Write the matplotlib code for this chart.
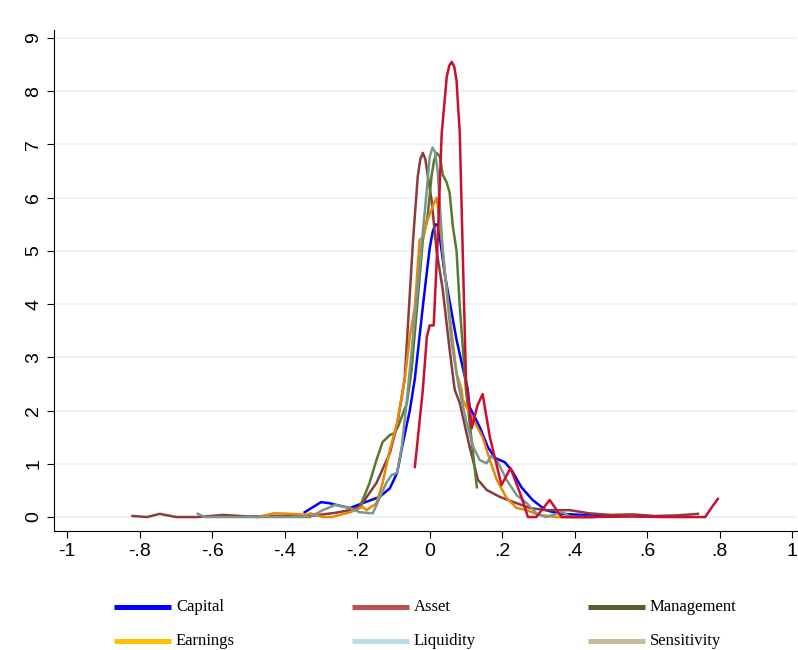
import numpy as np
import matplotlib.pyplot as plt
from matplotlib.lines import Line2D

# kernel density curves (x = value, y = density)
capital_x = [-0.345, -0.30, -0.276, -0.26, -0.22, -0.185, -0.138, -0.11, -0.09, -0.074, -0.055, -0.041,
             -0.019, -0.008, 0.0, 0.008, 0.015, 0.022, 0.028, 0.041, 0.074, 0.105, 0.11, 0.138, 0.16, 0.18,
             0.207, 0.226, 0.253, 0.284, 0.32, 0.36, 0.42, 0.505]
capital_y = [0.09, 0.28, 0.26, 0.23, 0.17, 0.26, 0.38, 0.54, 0.83, 1.39, 2.0, 2.6,
             3.95, 4.6, 5.05, 5.35, 5.5, 5.48, 5.25, 4.58, 3.33, 2.39, 2.07, 1.69, 1.32, 1.11,
             1.03, 0.88, 0.56, 0.32, 0.13, 0.06, 0.04, 0.02]

asset_x = [-0.82, -0.78, -0.745, -0.70, -0.64, -0.57, -0.50, -0.42, -0.34, -0.26, -0.22, -0.193, -0.147,
           -0.11, -0.09, -0.074, -0.069, -0.046, -0.033, -0.026, -0.019, -0.012, -0.005, 0.005, 0.019,
           0.036, 0.055, 0.069, 0.083, 0.11, 0.133, 0.157, 0.193, 0.24, 0.276, 0.32, 0.386, 0.44, 0.50,
           0.56, 0.62, 0.68, 0.74]
asset_y = [0.02, 0.0, 0.06, 0.0, 0.0, 0.04, 0.01, 0.02, 0.01, 0.08, 0.13, 0.19, 0.64,
           1.2, 1.73, 2.39, 2.6, 5.2, 6.4, 6.72, 6.84, 6.72, 6.4, 5.96, 5.0,
           4.27, 3.14, 2.39, 2.14, 1.32, 0.70, 0.51, 0.38, 0.26, 0.17, 0.13, 0.13, 0.07, 0.04,
           0.05, 0.02, 0.03, 0.06]

management_x = [-0.193, -0.166, -0.147, -0.13, -0.11, -0.097, -0.088, -0.063, -0.05, -0.019, -0.006,
                0.005, 0.012, 0.019, 0.028, 0.036, 0.047, 0.055, 0.064, 0.074, 0.083, 0.10, 0.13]
management_y = [0.19, 0.64, 1.07, 1.41, 1.54, 1.58, 1.69, 2.14, 2.76, 5.2, 5.64,
                6.4, 6.7, 6.84, 6.77, 6.43, 6.28, 6.09, 5.45, 5.0, 3.95, 2.39, 0.56]

earnings_x = [-0.477, -0.43, -0.38, -0.34, -0.33, -0.295, -0.27, -0.22, -0.185, -0.174, -0.147, -0.13,
              -0.11, -0.09, -0.074, -0.069, -0.055, -0.041, -0.028, -0.019, -0.006, 0.008, 0.019, 0.028,
              0.036, 0.047, 0.074, 0.088, 0.091, 0.116, 0.146, 0.166, 0.185, 0.212, 0.24, 0.268, 0.30,
              0.35, 0.45]
earnings_y = [0.0, 0.07, 0.06, 0.04, 0.07, 0.0, 0.0, 0.09, 0.19, 0.13, 0.26, 0.64,
              1.26, 1.77, 2.39, 2.57, 3.38, 3.95, 5.2, 5.26, 5.58, 5.83, 6.0, 5.52,
              5.0, 4.27, 2.7, 2.39, 2.2, 1.88, 1.5, 1.07, 0.7, 0.36, 0.17, 0.13, 0.04,
              0.0, 0.0]

liquidity_x = [-0.64, -0.62, -0.50, -0.40, -0.33, -0.295, -0.26, -0.22, -0.193, -0.157, -0.12, -0.105,
               -0.09, -0.077, -0.063, -0.055, -0.008, 0.0, 0.008, 0.015, 0.022, 0.036, 0.06, 0.08,
               0.10, 0.12, 0.138, 0.157, 0.17, 0.188, 0.212, 0.24, 0.268, 0.294, 0.32, 0.345, 0.366,
               0.39, 0.45]
liquidity_y = [0.06, 0.0, 0.0, 0.0, 0.0, 0.13, 0.23, 0.17, 0.09, 0.07, 0.64, 0.79,
               0.83, 1.32, 2.2, 2.76, 6.15, 6.77, 6.94, 6.85, 6.5, 5.0, 3.3, 2.45,
               1.82, 1.32, 1.07, 1.01, 1.15, 1.03, 0.7, 0.41, 0.26, 0.07, 0.0, 0.05, 0.09,
               0.0, 0.0]

sensitivity_x = [-0.041, -0.019, -0.008, 0.0, 0.011, 0.022, 0.033, 0.047, 0.054, 0.061, 0.068, 0.074,
                 0.083, 0.091, 0.10, 0.116, 0.132, 0.146, 0.166, 0.198, 0.223, 0.253, 0.271, 0.294,
                 0.331, 0.364, 0.45, 0.55, 0.65, 0.76, 0.78, 0.795]
sensitivity_y = [0.94, 2.39, 3.38, 3.6, 3.6, 5.2, 7.2, 8.27, 8.48, 8.55, 8.45, 8.2,
                 7.2, 5.0, 2.6, 1.67, 2.1, 2.31, 1.5, 0.6, 0.92, 0.38, 0.0, 0.0,
                 0.32, 0.0, 0.0, 0.01, 0.0, 0.0, 0.2, 0.34]

labels = ['Capital', 'Asset', 'Management', 'Earnings', 'Liquidity', 'Sensitivity']
line_colors = ['#0000ff', '#8b3a3e', '#587a2c', '#e8870a', '#7a978c', '#c8102e']
legend_colors = ['#0000ff', '#c0504d', '#4f6228', '#ffc000', '#b7dde8', '#c4bd97']
xticks = [-1, -0.8, -0.6, -0.4, -0.2, 0, 0.2, 0.4, 0.6, 0.8, 1]
xtick_labels = ['-1', '-.8', '-.6', '-.4', '-.2', '0', '.2', '.4', '.6', '.8', '1']
yticks = [0, 1, 2, 3, 4, 5, 6, 7, 8, 9]

series = [(capital_x, capital_y), (asset_x, asset_y), (management_x, management_y),
          (earnings_x, earnings_y), (liquidity_x, liquidity_y), (sensitivity_x, sensitivity_y)]

plt.rcParams['font.family'] = ['Liberation Sans', 'DejaVu Sans']

fig = plt.figure(figsize=(7.98, 6.5), dpi=100)
ax = fig.add_axes([0.068, 0.183, 0.931, 0.771])

for (x, y), c in zip(series, line_colors):
    ax.plot(x, y, color=c, linewidth=1.8, solid_joinstyle='round')

ax.set_xlim(-1.036, 1.014)
ax.set_ylim(-0.263, 9.15)
ax.set_xticks(xticks)
ax.set_xticklabels(xtick_labels)
ax.set_yticks(yticks)
ax.tick_params(axis='y', labelrotation=90, labelsize=14, length=5, width=0.8)
ax.tick_params(axis='x', labelsize=14, length=5, width=0.8)
for lab in ax.get_yticklabels():
    lab.set_verticalalignment('center')
ax.yaxis.grid(True, color='#eaf0f2', linewidth=1.2)
ax.set_axisbelow(True)
ax.spines['top'].set_visible(False)
ax.spines['right'].set_visible(False)

# legend drawn in two rows of three
col_x = [114, 352, 588]
row_y = [607, 641]
for i, (lab, c) in enumerate(zip(labels, legend_colors)):
    x0 = col_x[i % 3] / 798
    y0 = 1 - row_y[i // 3] / 650
    fig.add_artist(Line2D([x0, x0 + 57 / 798], [y0, y0], color=c, linewidth=3.6,
                          transform=fig.transFigure, solid_capstyle='butt'))
    fig.text(x0 + 62 / 798, y0, lab, ha='left', va='center', fontsize=12,
             family=['Liberation Serif', 'DejaVu Serif'])

fig.savefig('out.png', dpi=100)
